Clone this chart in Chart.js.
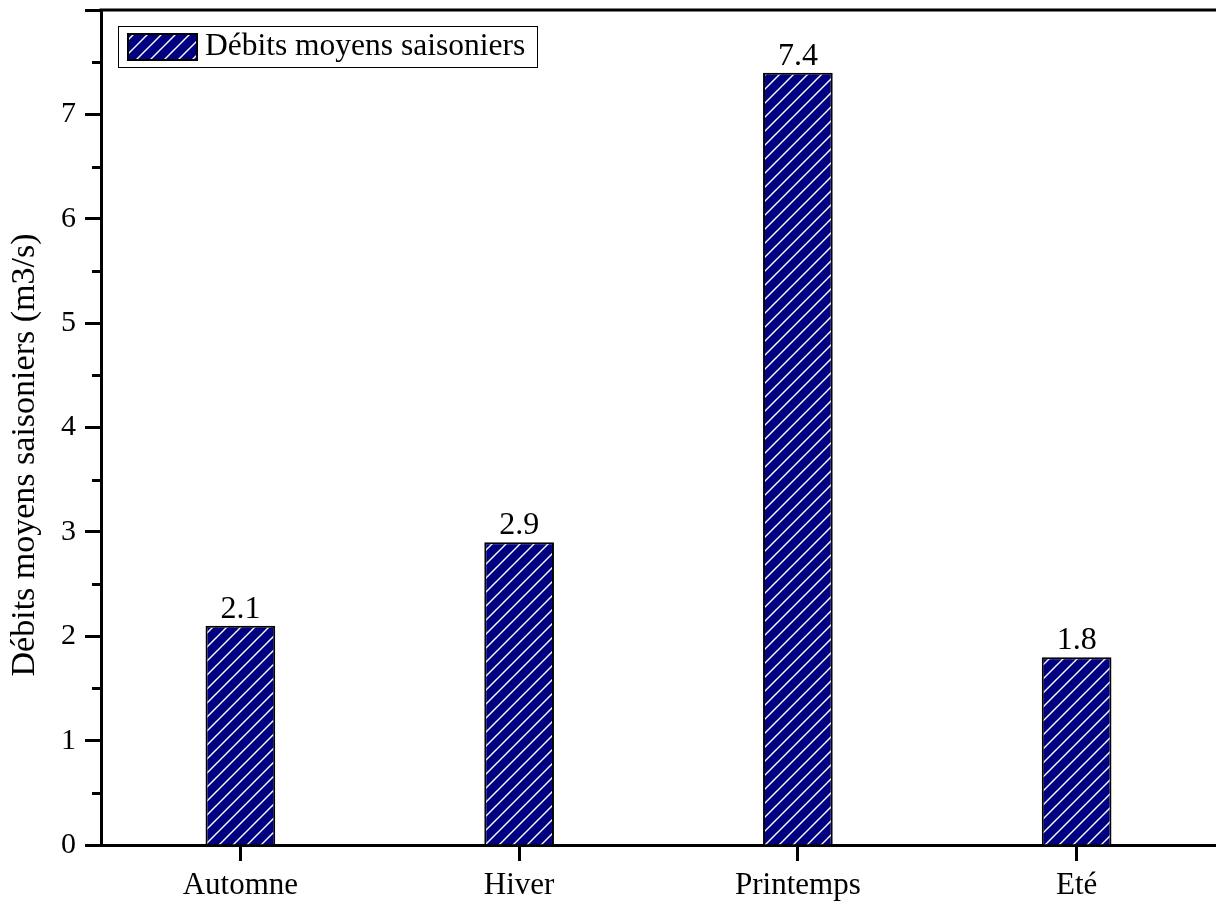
<!DOCTYPE html>
<html>
<head>
<meta charset="utf-8">
<title>Débits moyens saisoniers</title>
<script src="https://cdn.jsdelivr.net/npm/chart.js@4/dist/chart.umd.min.js"></script>
<style>
  html, body { margin: 0; padding: 0; background: #ffffff; }
  #wrap { width: 1216px; height: 905px; }
</style>
</head>
<body>
<div id="wrap"><canvas id="chart" width="1216" height="905"></canvas></div>
<script>
// Seasonal mean discharge values (m3/s)
const categories = ['Automne', 'Hiver', 'Printemps', 'Eté'];
const debits = [2.1, 2.9, 7.4, 1.8];
const seriesLabel = 'Débits moyens saisoniers';
const yTitle = 'Débits moyens saisoniers (m3/s)';
const yMin = 0;
const yMax = 8;

const FONT = '"Liberation Serif", "Times New Roman", serif';
const NAVY = '#000080';

// Navy fill with white forward-slash hatching
function makeHatch() {
  const s = 14;
  const c = document.createElement('canvas');
  c.width = s; c.height = s;
  const g = c.getContext('2d');
  g.fillStyle = NAVY;
  g.fillRect(0, 0, s, s);
  g.strokeStyle = '#ffffff';
  g.lineWidth = 1.4;
  g.beginPath();
  g.moveTo(-2, s + 2); g.lineTo(s + 2, -2);
  g.moveTo(-2, 2); g.lineTo(2, -2);
  g.moveTo(s - 2, s + 2); g.lineTo(s + 2, s - 2);
  g.stroke();
  return document.getElementById('chart').getContext('2d').createPattern(c, 'repeat');
}
const hatch = makeHatch();

// Frame line on top, minor y ticks, value labels, legend and y title
const decorations = {
  id: 'decorations',
  afterDraw(chart) {
    const { ctx, chartArea } = chart;
    const y = chart.scales.y;
    ctx.save();

    // top frame
    ctx.strokeStyle = '#000';
    ctx.lineWidth = 3;
    ctx.beginPath();
    ctx.moveTo(chartArea.left - 1.5, chartArea.top);
    ctx.lineTo(chartArea.right + 2, chartArea.top);
    ctx.stroke();

    // minor ticks on the y axis
    ctx.lineWidth = 3;
    ctx.beginPath();
    for (let v = yMin + 0.5; v < yMax; v += 1) {
      const py = Math.round(y.getPixelForValue(v)) + 0.5;
      ctx.moveTo(chartArea.left - 9, py);
      ctx.lineTo(chartArea.left, py);
    }
    ctx.stroke();

    // value labels above bars
    const meta = chart.getDatasetMeta(0);
    ctx.fillStyle = '#000';
    ctx.font = '32px ' + FONT;
    ctx.textAlign = 'center';
    ctx.textBaseline = 'alphabetic';
    meta.data.forEach((bar, i) => {
      ctx.fillText(String(chart.data.datasets[0].data[i]), bar.x, bar.y - 8);
    });

    // legend box
    const lx = 118, ly = 26, lw = 419, lh = 41;
    ctx.lineWidth = 1;
    ctx.strokeStyle = '#000';
    ctx.strokeRect(lx + 0.5, ly + 0.5, lw, lh);
    ctx.fillStyle = chart.data.datasets[0].backgroundColor;
    ctx.fillRect(128, 34, 69, 26);
    ctx.lineWidth = 2;
    ctx.strokeRect(128, 34, 69, 26);
    ctx.fillStyle = '#000';
    ctx.font = '31.5px ' + FONT;
    ctx.textAlign = 'left';
    ctx.textBaseline = 'middle';
    ctx.fillText(chart.data.datasets[0].label, 205, 47);

    // y axis title
    ctx.translate(25, 455);
    ctx.rotate(-Math.PI / 2);
    ctx.textAlign = 'center';
    ctx.textBaseline = 'middle';
    ctx.font = '34px ' + FONT;
    ctx.fillText(yTitle, 0, 0);

    ctx.restore();
  }
};

new Chart(document.getElementById('chart'), {
  type: 'bar',
  data: {
    labels: categories,
    datasets: [{
      label: seriesLabel,
      data: debits,
      backgroundColor: hatch,
      borderColor: '#000',
      borderWidth: 2,
      categoryPercentage: 1,
      barPercentage: 0.25
    }]
  },
  options: {
    responsive: false,
    devicePixelRatio: 1,
    animation: false,
    layout: { padding: { top: 10, right: 0, bottom: 0, left: 0 } },
    plugins: {
      legend: { display: false },
      tooltip: { enabled: false }
    },
    scales: {
      x: {
        offset: true,
        border: { display: true, color: '#000', width: 3 },
        grid: {
          display: true,
          drawOnChartArea: false,
          drawTicks: true,
          tickLength: 16,
          tickWidth: 3,
          tickColor: '#000',
          offset: false
        },
        ticks: {
          color: '#000',
          font: { family: FONT, size: 31 },
          padding: 6,
          maxRotation: 0
        },
        afterFit(scale) {
          scale.height = 60;
          scale.paddingLeft = 0;
          scale.paddingRight = 0;
        }
      },
      y: {
        min: yMin,
        max: yMax,
        border: { display: true, color: '#000', width: 3 },
        grid: {
          display: true,
          drawOnChartArea: false,
          drawTicks: true,
          tickLength: 16,
          tickWidth: 3,
          tickColor: '#000'
        },
        ticks: {
          stepSize: 1,
          color: '#000',
          font: { family: FONT, size: 30 },
          padding: 9,
          callback: (v) => (v >= yMax ? '' : String(v))
        },
        afterFit(scale) {
          scale.width = 101;
          scale.paddingTop = 0;
          scale.paddingBottom = 0;
        }
      }
    }
  },
  plugins: [decorations]
});
</script>
</body>
</html>
